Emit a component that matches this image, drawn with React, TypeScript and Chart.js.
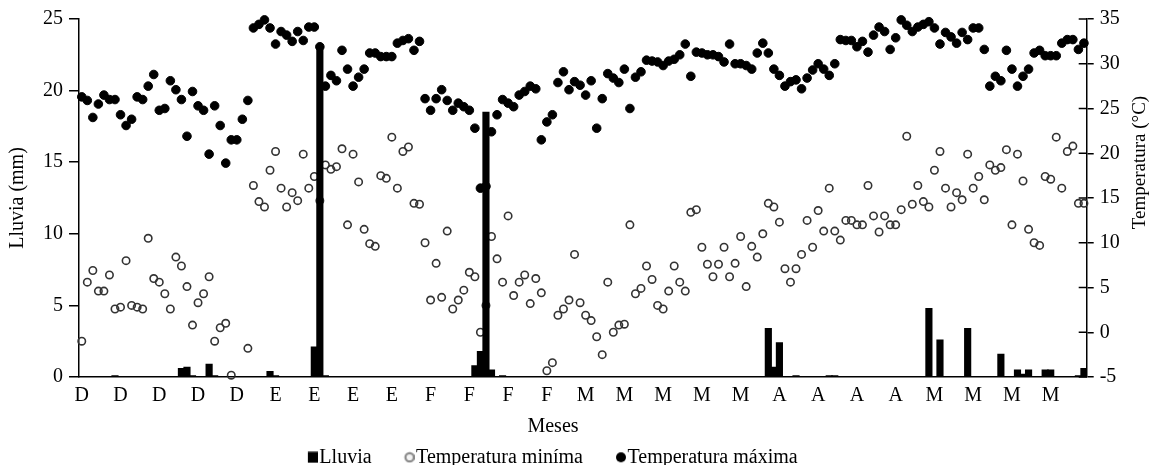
import React, { useEffect, useRef } from 'react';
import { Chart, registerables } from 'chart.js';

Chart.register(...registerables);

// ---------- categories ----------
const monthLetters = ['D', 'E', 'F', 'M', 'A', 'M'];
const monthDays = [31, 31, 28, 31, 30, 31];
const tickEvery = 7;

// ---------- axis ranges / tick labels ----------
const rainAxis = { min: 0, max: 25, step: 5 };
const tempAxis = { min: -5, max: 35, step: 5 };

// ---------- series names ----------
const seriesNames = ['Lluvia', 'Temperatura miníma', 'Temperatura máxima'];
const axisTitles = { rain: 'Lluvia (mm)', temp: 'Temperatura (°C)', x: 'Meses' };

// ---------- Lluvia (mm), daily ----------
const rainDec = [0, 0, 0, 0, 0, 0, 0.1, 0, 0, 0, 0, 0, 0, 0, 0, 0, 0, 0, 0.6, 0.7, 0.1, 0, 0, 0.9, 0.1, 0, 0, 0, 0, 0, 0];
const rainJan = [0, 0, 0, 0.4, 0.1, 0, 0, 0, 0, 0, 0, 2.1, 23.0, 0.1, 0, 0, 0, 0, 0, 0, 0, 0, 0, 0, 0, 0, 0, 0, 0, 0, 0];
const rainFeb = [0, 0, 0, 0, 0, 0, 0, 0, 0, 0.8, 1.8, 18.5, 0.5, 0, 0.1, 0, 0, 0, 0, 0, 0, 0, 0, 0, 0, 0, 0, 0];
const rainMar = [0, 0, 0, 0, 0, 0, 0, 0, 0, 0, 0, 0, 0, 0, 0, 0, 0, 0, 0, 0, 0, 0, 0, 0, 0, 0, 0, 0, 0, 0, 0];
const rainApr = [0, 0, 0, 3.4, 0.7, 2.4, 0, 0, 0.1, 0, 0, 0, 0, 0, 0.1, 0.1, 0, 0, 0, 0, 0, 0, 0, 0, 0, 0, 0, 0, 0, 0];
const rainMay = [0, 0, 4.8, 0, 2.6, 0, 0, 0, 0, 3.4, 0, 0, 0, 0, 0, 1.6, 0, 0, 0.5, 0.2, 0.5, 0, 0, 0.5, 0.5, 0, 0, 0, 0, 0.1, 0.6];

// ---------- Temperatura mínima (°C), daily ----------
const tMinDec = [-1.0, 5.6, 6.9, 4.6, 4.6, 6.4, 2.6, 2.8, 8.0, 3.0, 2.8, 2.6, 10.5, 6.0, 5.6, 4.3, 2.6, 8.4, 7.4, 5.1, 0.8, 3.3, 4.3, 6.2, -1.0, 0.5, 1.0, -4.8, null, null, -1.8];
const tMinJan = [16.4, 14.6, 14.0, 18.1, 20.2, 16.1, 14.0, 15.6, 14.7, 19.9, 16.1, 17.4, 14.7, 18.7, 18.2, 18.5, 20.5, 12.0, 19.9, 16.8, 11.5, 9.9, 9.6, 17.5, 17.2, 21.8, 16.1, 20.2, 20.7, 14.4, 14.3];
const tMinFeb = [10.0, 3.6, 7.7, 3.9, 11.3, 2.6, 3.6, 4.7, 6.7, 6.2, 0.0, 3.0, 10.7, 8.2, 5.6, 13.0, 4.1, 5.6, 6.4, 3.2, 6.0, 4.4, -4.3, -3.4, 1.9, 2.6, 3.6, 8.7];
const tMinMar = [3.3, 1.9, 1.3, -0.5, -2.5, 5.6, 0.0, 0.8, 0.9, 12.0, 4.3, 4.9, 7.4, 5.9, 3.0, 2.6, 4.6, 7.4, 5.6, 4.6, 13.4, 13.7, 9.5, 7.6, 6.2, 7.6, 9.5, 6.2, 7.7, 10.7, 5.1];
const tMinApr = [9.6, 8.4, 11.0, 14.4, 14.0, 12.3, 7.1, 5.6, 7.1, 8.7, 12.5, 9.5, 13.6, 11.3, 16.1, 11.3, 10.3, 12.5, 12.5, 12.0, 12.0, 16.4, 13.0, 11.2, 13.0, 12.0, 12.0, 13.7, 21.9, 14.3];
const tMinMay = [16.4, 14.6, 14.0, 18.1, 20.2, 16.1, 14.0, 15.6, 14.8, 19.9, 16.1, 17.4, 14.8, 18.7, 18.1, 18.4, 20.4, 12.0, 19.9, 16.9, 11.5, 10.0, 9.7, 17.4, 17.1, 21.8, 16.1, 20.2, 20.8, 14.4, 14.4];

// ---------- Temperatura máxima (°C), daily ----------
const tMaxDec = [26.3, 25.9, 24.0, 25.5, 26.5, 26.0, 26.0, 24.3, 23.1, 23.8, 26.3, 26.0, 27.5, 28.8, 24.8, 25.0, 28.1, 27.1, 26.0, 21.9, 26.9, 25.3, 24.8, 19.9, 25.3, 23.1, 18.9, 21.5, 21.5, 23.8, 25.9];
const tMaxJan = [34.0, 34.4, 34.9, 34.0, 32.2, 33.6, 33.2, 32.5, 33.6, 32.6, 34.1, 34.1, 31.9, 27.5, 28.7, 28.1, 31.5, 29.4, 27.5, 28.5, 29.4, 31.2, 31.2, 30.8, 30.8, 30.8, 32.3, 32.6, 32.8, 31.5, 32.5];
const tMaxFeb = [26.1, 24.8, 26.1, 27.1, 25.9, 24.8, 25.6, 25.2, 24.8, 22.8, 16.1, 16.3, 22.4, 24.3, 26.0, 25.6, 25.2, 26.5, 26.9, 27.5, 27.2, 21.5, 23.5, 24.3, 27.9, 29.1, 27.1, 28.0];
const tMaxMar = [27.6, 26.5, 28.1, 22.8, 26.1, 28.9, 28.4, 27.9, 29.4, 25.0, 28.5, 29.1, 30.4, 30.3, 30.2, 29.8, 30.3, 30.5, 31.0, 32.2, 28.6, 31.3, 31.2, 31.0, 31.0, 30.8, 30.2, 32.2, 30.0, 30.0, 29.8];
const tMaxApr = [29.4, 31.2, 32.3, 31.2, 29.4, 28.7, 27.5, 28.0, 28.2, 27.2, 28.4, 29.3, 30.0, 29.4, 28.7, 30.0, 32.7, 32.6, 32.6, 31.9, 32.5, 31.3, 33.2, 34.1, 33.6, 31.6, 32.9, 34.9, 34.3, 33.6];
const tMaxMay = [34.1, 34.4, 34.7, 34.0, 32.2, 33.5, 33.0, 32.3, 33.5, 32.7, 34.0, 34.0, 31.6, 27.5, 28.6, 28.1, 31.5, 29.4, 27.5, 28.6, 29.4, 31.2, 31.5, 30.9, 30.9, 30.9, 32.3, 32.7, 32.7, 31.6, 32.3];

const FONT = "'Liberation Serif', 'Times New Roman', Times, serif";

function buildCategories() {
  const labels: string[] = [];
  const letters: string[] = [];
  monthLetters.forEach((l, m) => {
    for (let d = 1; d <= monthDays[m]; d++) {
      labels.push(`${d} ${l}`);
      letters.push(l);
    }
  });
  return { labels, letters };
}

function makeMarker(kind: 'rect' | 'ring' | 'dot'): HTMLCanvasElement {
  const c = document.createElement('canvas');
  c.width = 18;
  c.height = 12;
  const g = c.getContext('2d')!;
  if (kind === 'rect') {
    g.fillStyle = '#000';
    g.fillRect(8, 0.5, 10, 11);
  } else if (kind === 'ring') {
    g.beginPath();
    g.arc(13, 6, 4.2, 0, Math.PI * 2);
    g.fillStyle = '#f4f4f4';
    g.fill();
    g.lineWidth = 2.2;
    g.strokeStyle = '#8a8a8a';
    g.stroke();
  } else {
    g.beginPath();
    g.arc(13, 6, 5, 0, Math.PI * 2);
    g.fillStyle = '#000';
    g.fill();
  }
  return c;
}

const extrasPlugin = {
  id: 'extras',
  afterLayout(chart: any) {
    // let axis tick labels extend past the (narrow) scale boxes without being clipped
    chart.scales.y1.right = chart.width;
    chart.scales.x.bottom = chart.height;
  },
  afterDraw(chart: any) {
    const { ctx, chartArea } = chart;
    const s = chart.scales.y1;
    ctx.save();
    ctx.strokeStyle = '#000';
    ctx.lineWidth = 1.5;
    s.ticks.forEach((t: any) => {
      const y = s.getPixelForValue(t.value);
      ctx.beginPath();
      ctx.moveTo(chartArea.right - 8, y);
      ctx.lineTo(chartArea.right, y);
      ctx.stroke();
    });
    ctx.translate(chartArea.right + 53.5, chartArea.top + 143.5);
    ctx.rotate(-Math.PI / 2);
    ctx.font = `19px ${FONT}`;
    ctx.fillStyle = '#000';
    ctx.textAlign = 'center';
    ctx.textBaseline = 'middle';
    ctx.fillText(axisTitles.temp, 0, 0);
    ctx.restore();
  },
};

export default function App() {
  const canvasRef = useRef<HTMLCanvasElement | null>(null);

  useEffect(() => {
    if (!canvasRef.current) return;
    Chart.defaults.font.family = FONT;
    Chart.defaults.font.size = 20;
    Chart.defaults.color = '#000';

    const { labels, letters } = buildCategories();
    const rain = [...rainDec, ...rainJan, ...rainFeb, ...rainMar, ...rainApr, ...rainMay];
    const tMin = [...tMinDec, ...tMinJan, ...tMinFeb, ...tMinMar, ...tMinApr, ...tMinMay];
    const tMax = [...tMaxDec, ...tMaxJan, ...tMaxFeb, ...tMaxMar, ...tMaxApr, ...tMaxMay];

    const markers = [makeMarker('rect'), makeMarker('ring'), makeMarker('dot')];
    const padRight = 45;

    const chart = new Chart(canvasRef.current, {
      type: 'bar',
      data: {
        labels,
        datasets: [
          {
            type: 'bar',
            label: seriesNames[0],
            data: rain,
            yAxisID: 'y',
            backgroundColor: '#000',
            borderWidth: 0,
            barThickness: 6.5,
            order: 0,
          } as any,
          {
            type: 'line',
            label: seriesNames[1],
            data: tMin,
            yAxisID: 'y1',
            showLine: false,
            pointStyle: 'circle',
            pointRadius: 3.7,
            pointBorderWidth: 1.6,
            pointBorderColor: '#333',
            pointBackgroundColor: 'rgba(255,255,255,0)',
            clip: false,
            order: 2,
          } as any,
          {
            type: 'line',
            label: seriesNames[2],
            data: tMax,
            yAxisID: 'y1',
            showLine: false,
            pointStyle: 'circle',
            pointRadius: 4.3,
            pointBorderWidth: 1,
            pointBorderColor: '#000',
            pointBackgroundColor: '#000',
            clip: false,
            order: 1,
          } as any,
        ],
      },
      options: {
        animation: false,
        responsive: false,
        events: [],
        layout: { padding: { left: 0, right: padRight, top: 19, bottom: 0 } },
        plugins: {
          tooltip: { enabled: false },
          title: {
            display: true,
            text: axisTitles.x,
            position: 'bottom',
            weight: 500,
            color: '#000',
            font: { size: 20, weight: 'normal', family: FONT },
            padding: { top: 27.6, bottom: -24.8 },
          },
          legend: {
            display: true,
            position: 'bottom',
            align: 'center',
            maxHeight: 51.2,
            labels: {
              usePointStyle: true,
              boxWidth: 1,
              padding: 33.5,
              color: '#000',
              font: { size: 20, family: FONT },
              generateLabels: () =>
                seriesNames.map((name, i) => ({
                  text: name,
                  fillStyle: '#000',
                  strokeStyle: '#000',
                  lineWidth: 0,
                  pointStyle: markers[i],
                  hidden: false,
                  datasetIndex: i,
                  fontColor: '#000',
                })) as any,
            },
          },
        } as any,
        scales: {
          x: {
            type: 'category',
            offset: true,
            grid: { display: false, drawTicks: false },
            border: { display: true, color: '#000', width: 1.5 },
            ticks: {
              autoSkip: false,
              maxRotation: 0,
              minRotation: 0,
              padding: 7,
              color: '#000',
              font: { size: 20 },
              callback: (_v: any, i: number) => (i % tickEvery === 0 ? letters[i] : ''),
            },
            afterFit: (s: any) => {
              s.height = 10;
            },
          },
          y: {
            position: 'left',
            min: rainAxis.min,
            max: rainAxis.max,
            ticks: { stepSize: rainAxis.step, padding: 6, color: '#000', font: { size: 20 } },
            grid: { display: true, drawOnChartArea: false, drawTicks: true, tickLength: 10, color: '#000', lineWidth: 1.5 },
            border: { display: true, color: '#000', width: 1.5 },
            title: { display: true, text: axisTitles.rain, color: '#000', font: { size: 20 }, padding: { top: 6, bottom: 0 } },
            afterFit: (s: any) => {
              s.width = 79;
            },
          },
          y1: {
            position: 'right',
            min: tempAxis.min,
            max: tempAxis.max,
            ticks: { stepSize: tempAxis.step, padding: 6, color: '#000', font: { size: 20 } },
            grid: { display: true, drawOnChartArea: false, drawTicks: true, tickLength: 7, color: '#000', lineWidth: 1.5 },
            border: { display: true, color: '#000', width: 1.5 },
            afterFit: (s: any) => {
              s.width = 1151 - padRight - 1086.7;
            },
          },
        } as any,
      },
      plugins: [extrasPlugin],
    });

    return () => chart.destroy();
  }, []);

  return (
    <div style={{ position: 'fixed', left: 0, top: 0, width: 1151, height: 465, background: '#fff' }}>
      <canvas ref={canvasRef} width={1151} height={465} style={{ width: 1151, height: 465, display: 'block' }} />
    </div>
  );
}
